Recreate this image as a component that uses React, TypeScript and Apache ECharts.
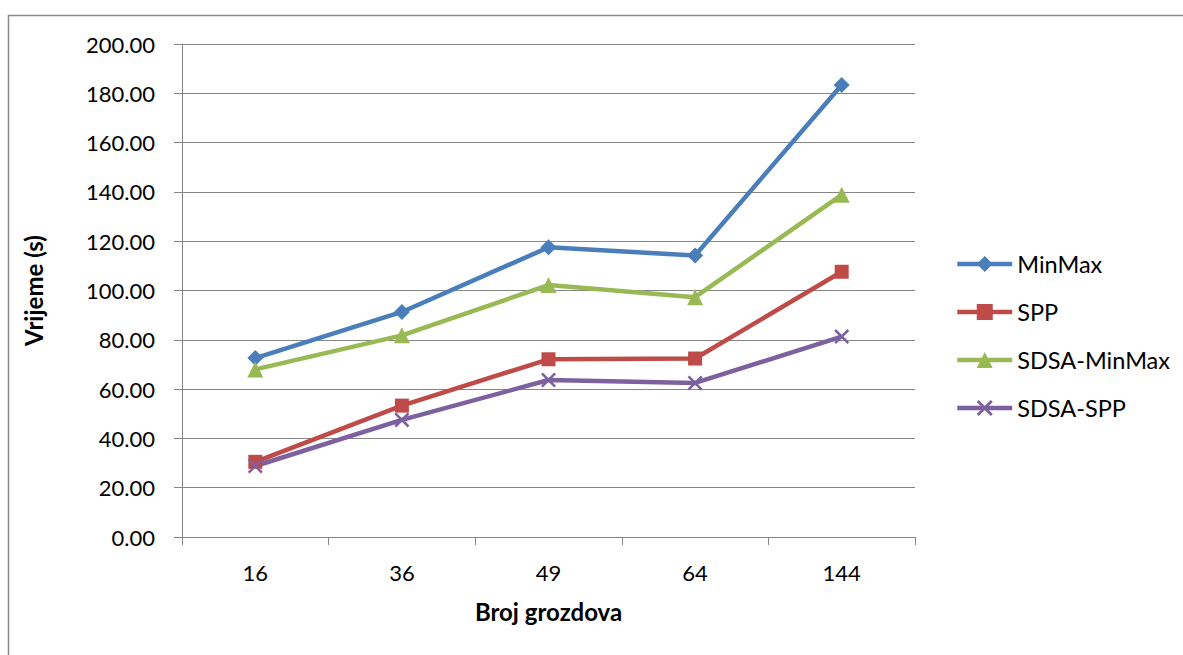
import React, { useEffect, useRef } from "react";
import * as echarts from "echarts";

const categories = ["16", "36", "49", "64", "144"];
const minMax = [72.6, 91.3, 117.5, 114.2, 183.4];
const spp = [30.5, 53.3, 72.1, 72.4, 107.6];
const sdsaMinMax = [68.0, 81.8, 102.2, 97.3, 138.8];
const sdsaSpp = [28.8, 47.5, 63.7, 62.5, 81.3];
const yTicks = { min: 0, max: 200, interval: 20 };

const FONT = "Lato";
const GRID_COLOR = "#868686";
const X_SYMBOL = "path://M0,1.2L1.2,0L10,8.8L8.8,10Z M8.8,0L10,1.2L1.2,10L0,8.8Z";

export default function App() {
  const ref = useRef<HTMLDivElement>(null);
  useEffect(() => {
    if (!ref.current) return;
    const chart = echarts.init(ref.current, undefined, { renderer: "svg" });
    const mk = (name: string, data: number[], color: string, symbol: string, size: number) => ({
      name,
      type: "line",
      data,
      symbol,
      symbolSize: size,
      showAllSymbol: true,
      lineStyle: { color, width: 4.5 },
      itemStyle: { color, borderWidth: 0 },
      emphasis: { disabled: true },
    });
    chart.setOption({
      animation: false,
      backgroundColor: "#ffffff",
      textStyle: { fontFamily: FONT },
      graphic: [
        {
          type: "rect",
          shape: { x: 8.5, y: 15.5, width: 1300, height: 800 },
          style: { fill: "none", stroke: "#8a8a8a", lineWidth: 1.5 },
          silent: true,
        },
      ],
      grid: { left: 182, top: 44, right: 268, bottom: 118, containLabel: false },
      legend: {
        orient: "vertical",
        left: 955,
        top: 252,
        padding: 0,
        itemWidth: 55,
        itemHeight: 20,
        itemGap: 24,
        lineStyle: { width: 4.5 },
        textStyle: { fontFamily: FONT, fontSize: 23.5, color: "#000" },
        data: ["MinMax", "SPP", "SDSA-MinMax", "SDSA-SPP"],
      },
      xAxis: {
        type: "category",
        data: categories,
        boundaryGap: true,
        name: "Broj grozdova",
        nameLocation: "middle",
        nameGap: 62,
        nameTextStyle: { fontFamily: FONT, fontSize: 24, fontWeight: "bold", color: "#000", verticalAlign: "top" },
        axisLine: { lineStyle: { color: GRID_COLOR, width: 1 } },
        axisTick: { show: true, alignWithLabel: false, length: 8, lineStyle: { color: GRID_COLOR } },
        axisLabel: { fontFamily: FONT, fontSize: 22, color: "#000", margin: 24 },
        splitLine: { show: false },
      },
      yAxis: {
        type: "value",
        min: yTicks.min,
        max: yTicks.max,
        interval: yTicks.interval,
        name: "Vrijeme (s)",
        nameLocation: "middle",
        nameGap: 137,
        nameRotate: 90,
        nameTextStyle: { fontFamily: FONT, fontSize: 24, fontWeight: "bold", color: "#000" },
        axisLine: { show: true, lineStyle: { color: GRID_COLOR, width: 1 } },
        axisTick: { show: true, length: 8, lineStyle: { color: GRID_COLOR } },
        axisLabel: {
          fontFamily: FONT,
          fontSize: 22,
          color: "#000",
          margin: 27,
          formatter: (v: number) => v.toFixed(2),
        },
        splitLine: { show: true, lineStyle: { color: GRID_COLOR, width: 1 } },
      },
      series: [
        mk("MinMax", minMax, "#4A7EBB", "diamond", 16),
        mk("SPP", spp, "#BE4B48", "rect", 14),
        mk("SDSA-MinMax", sdsaMinMax, "#98B954", "triangle", 16),
        mk("SDSA-SPP", sdsaSpp, "#7D60A0", X_SYMBOL, 15),
      ],
    });
    return () => chart.dispose();
  }, []);
  return (
    <div
      ref={ref}
      style={{ position: "fixed", left: 0, top: 0, width: 1183, height: 655, background: "#fff" }}
    />
  );
}
